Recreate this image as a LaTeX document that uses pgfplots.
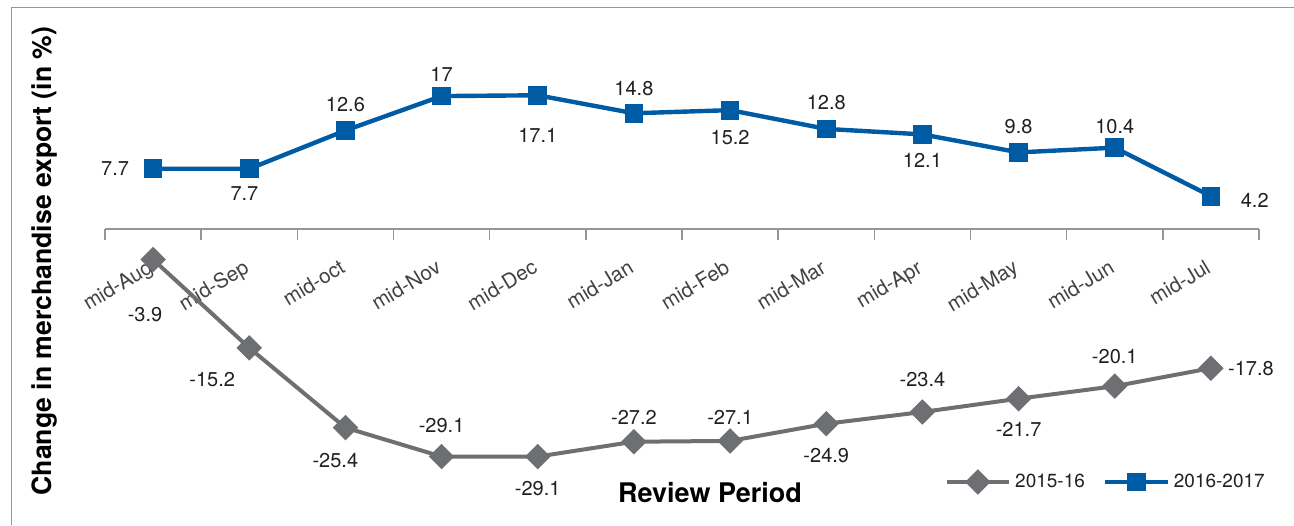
\documentclass[border=0pt]{standalone}
\usepackage{pgfplots}
\pgfplotsset{compat=1.18}
\usepackage{pgfplotstable}
\usepackage{fontspec}
\setmainfont{TeX Gyre Heros}
\definecolor{cblue}{RGB}{0,91,165}
\definecolor{cgray}{RGB}{110,111,114}
\definecolor{ctxt}{RGB}{35,31,32}
\definecolor{caxis}{RGB}{150,150,150}

\pgfplotstableread{
x y lbl ang dist
0 7.7 7.7 180 19
1 7.7 7.7 259 12.7
2 12.6 12.6 90 13
3 17 17 90 11
4 17.1 17.1 270 20
5 14.8 14.8 90 12.3
6 15.2 15.2 270 13.7
7 12.8 12.8 90 13
8 12.1 12.1 270 13
9 9.8 9.8 90 13
10 10.4 10.4 90 10.5
11 4.2 4.2 -5 22
}\tblB

\pgfplotstableread{
x y lbl ang dist
0 -3.9 -3.9 261.7 27.8
1 -15.2 -15.2 220.9 24.5
2 -25.4 -25.4 253 17.2
3 -29.1 -29.1 90 15.5
4 -29.1 -29.1 270 16
5 -27.2 -27.2 90 12
6 -27.1 -27.1 90 12
7 -24.9 -24.9 270 16
8 -23.4 -23.4 90 16
9 -21.7 -21.7 270 15.5
10 -20.1 -20.1 90 15
11 -17.8 -17.8 0 20
}\tblG

\pgfplotsset{
  lblstyle/.style={
    point meta=explicit symbolic,
    nodes near coords,
    visualization depends on={\thisrow{ang} \as \lblang},
    visualization depends on={\thisrow{dist} \as \lbldist},
    every node near coord/.style={anchor=center, xshift={\lbldist*cos(\lblang)*1pt}, yshift={\lbldist*sin(\lblang)*1pt}, font=\fontsize{10}{12}\selectfont, text=ctxt},
  }
}

\begin{document}
\begin{tikzpicture}
\path[use as bounding box] (0,0) rectangle (647pt,-262.5pt);
\draw[caxis, line width=0.6pt] (5.8pt,-262.5pt) -- (5.8pt,-3.8pt) -- (647pt,-3.8pt);
\begin{axis}[
  at={(52.5pt,-251.35pt)}, anchor=south west,
  scale only axis, width=577pt, height=234.6pt,
  xmin=-0.5, xmax=11.5, ymin=-35, ymax=25,
  clip=false,
  axis x line=middle, axis y line=none,
  x axis line style={-, caxis, line width=0.8pt},
  hide obscured x ticks=false,
  xtick={0,...,11},
  xticklabels={mid-Aug,mid-Sep,mid-oct,mid-Nov,mid-Dec,mid-Jan,mid-Feb,mid-Mar,mid-Apr,mid-May,mid-Jun,mid-Jul},
  major tick length=0pt,
  minor xtick={-0.5,0.5,...,11.5},
  minor tick length=5.5pt,
  xtick align=outside,
  minor tick style={caxis, line width=0.8pt},
  xticklabel style={font=\fontsize{10.3}{12}\selectfont, text=ctxt!85, anchor=base east, xshift=3.5pt, yshift=-19.5pt, rotate=31},
  legend style={draw=none, fill=none, at={(0.868,0.044)}, anchor=center,
    font=\fontsize{9.5}{11}\selectfont, text=ctxt, legend columns=2,
    /tikz/every even column/.append style={column sep=7pt}},
  legend image code/.code={
    \draw[#1, mark=none] (0cm,0cm) -- (1.1cm,0cm);
    \draw[#1, only marks] plot coordinates {(0.55cm,0cm)};
  },
]
\addplot[cgray, line width=2pt, mark=square*, mark size=3.5pt, mark options={rotate=45, solid}, lblstyle] table[x=x, y=y, meta=lbl] {\tblG};
\addlegendentry{2015-16}
\addplot[cblue, line width=2.2pt, mark=square*, mark size=3.6pt, mark options={solid}, lblstyle] table[x=x, y=y, meta=lbl] {\tblB};
\addlegendentry{2016-2017}
\end{axis}
\node[font=\bfseries\fontsize{13.5}{16}\selectfont, text=black] at (355pt,-246.5pt) {Review Period};
\node[font=\bfseries\fontsize{13.3}{16}\selectfont, text=black, rotate=90] at (22pt,-130.5pt) {Change in merchandise export (in \%)};
\end{tikzpicture}
\end{document}
